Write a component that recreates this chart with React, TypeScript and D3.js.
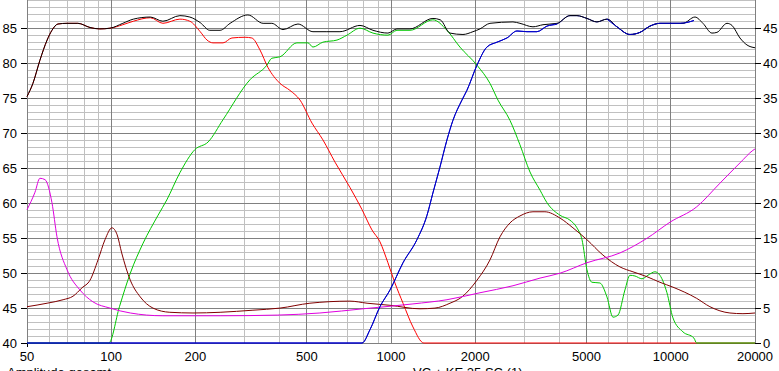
import * as d3 from "d3";

type Pt = [number, number];

// frequency (Hz), level (dB)
const totalResponse: Pt[] = [
  [50, 75.3], [52.5, 77.2], [55.6, 80.5], [59, 83.4], [61.4, 84.8], [64.5, 85.7],
  [69.5, 85.8], [76, 85.8], [84, 85.2], [91, 85.0], [99, 85.1], [110, 85.8],
  [120, 86.4], [138, 86.7], [153, 86.1], [176, 86.9], [191, 86.7], [208, 85.9],
  [225, 84.8], [245, 84.8], [266, 85.8], [308, 87.0], [349, 85.8], [375, 85.8],
  [411, 84.9], [465, 85.7], [526, 84.6], [590, 84.6], [657, 84.6], [775, 85.5],
  [862, 84.8], [975, 84.4], [1050, 85.0], [1169, 85.0], [1412, 86.5], [1500, 86.3],
  [1625, 84.4], [1808, 84.2], [1963, 84.6], [2080, 85.0], [2258, 85.8], [2729, 86.0],
  [2890, 85.8], [3217, 85.3], [3493, 85.6], [3920, 85.8], [4361, 86.9], [4620, 86.9],
  [5016, 86.5], [5445, 86.0], [5914, 86.4], [6420, 85.3], [7145, 84.2], [7760, 84.5],
  [8425, 85.4], [9146, 85.8], [10520, 85.8], [11050, 85.8], [12200, 86.7], [13030, 85.8],
  [14030, 84.4], [14620, 84.5], [15880, 85.8], [16550, 85.5], [17670, 83.7],
  [18720, 82.7], [20000, 82.3],
];

const wooferResponse: Pt[] = [
  [50, 75.3], [52.5, 77.2], [55.6, 80.5], [59, 83.4], [61.4, 84.8], [64.5, 85.7],
  [69.5, 85.8], [76, 85.8], [84, 85.2], [91, 85.0], [99, 85.1], [110, 85.6],
  [120, 86.1], [138, 86.6], [153, 85.8], [176, 86.4], [191, 86.1], [208, 84.6],
  [220, 83.4], [231, 83.0], [251, 83.0], [270, 83.7], [301, 83.8], [318, 83.7],
  [340, 82.0], [363, 79.5], [401, 77.2], [435, 76.2], [473, 74.8], [522, 71.5],
  [571, 69.1], [631, 65.9], [713, 62.3], [788, 59.1], [855, 56.2], [913, 54.5],
  [975, 51.5], [1033, 48.6], [1104, 45.7], [1198, 42.3], [1311, 40], [20000, 40],
];

const midResponse: Pt[] = [
  [50, 40], [98, 40], [107, 45.2], [117, 50], [130, 54.3], [147, 58.3], [158, 60.5],
  [176, 64.4], [199, 67.7], [222, 68.8], [251, 72.0], [313, 77.7], [360, 79.8],
  [375, 80.8], [401, 81.0], [461, 83.0], [505, 83.0], [526, 82.4], [571, 83.1],
  [641, 83.4], [696, 84.1], [775, 85.1], [862, 84.4], [975, 84.1], [1050, 84.8],
  [1169, 84.8], [1412, 86.3], [1585, 84.8], [1763, 82.4], [2029, 79.8], [2258, 77.2],
  [2412, 74.8], [2662, 71.9], [2890, 68.4], [3139, 64.5], [3409, 61.9], [3610, 60.1],
  [4018, 58.3], [4361, 57.6], [4620, 56.5], [4816, 54.8], [5016, 50.5], [5225, 48.7],
  [5580, 48.6], [5914, 46.6], [6215, 43.7], [6475, 44.0], [6858, 47.6], [7145, 49.7],
  [7447, 49.6], [7889, 49.2], [8287, 49.7], [8778, 50.2], [9146, 49.7], [9690, 47.2],
  [10180, 43.6], [11050, 41.6], [12100, 40.7], [12370, 40], [20000, 40],
];

const tweeterResponse: Pt[] = [
  [50, 40], [788, 40], [841, 41.9], [913, 45.2], [992, 47.6], [1104, 51.5],
  [1238, 54.8], [1345, 58.3], [1412, 61.5], [1496, 65.2], [1585, 69.1], [1665, 71.9],
  [1793, 74.8], [1868, 76.2], [2029, 79.8], [2202, 82.4], [2393, 83.1], [2597, 83.7],
  [2820, 84.7], [3062, 84.6], [3323, 84.6], [3610, 85.4], [3920, 85.7], [4361, 86.9],
  [4620, 86.9], [5016, 86.5], [5445, 86.0], [5914, 86.4], [6420, 85.3], [7145, 84.2],
  [7760, 84.5], [8425, 85.4], [9146, 85.8], [10800, 85.8], [12100, 86.2],
];

// impedance-like traces, read on the right-hand scale (+40)
const maroonTrace: Pt[] = [
  [50, 45.2], [59, 45.7], [67.3, 46.2], [73, 46.7], [78.6, 47.9], [84, 49],
  [89.7, 51.9], [95, 54.8], [100.6, 56.5], [105, 55.5], [109, 52.9], [117, 49],
  [127, 46.6], [141, 45.0], [162, 44.4], [196, 44.3], [245, 44.4], [321, 44.7],
  [401, 45.0], [513, 45.7], [713, 46.0], [821, 45.7], [992, 45.4], [1269, 44.9],
  [1436, 45.0], [1625, 45.7], [1793, 46.6], [2029, 49], [2258, 51.9], [2451, 55.2],
  [2662, 57.2], [2890, 58.2], [3217, 58.8], [3550, 58.8], [4018, 57.9], [4470, 56.5],
  [5016, 54.8], [5721, 52.6], [6580, 50.9], [7324, 50.2], [8220, 49.5], [9146, 48.7],
  [10180, 48.0], [12370, 46.4], [13800, 45.2], [16270, 44.3], [18110, 44.2], [20000, 44.3],
];

const magentaTrace: Pt[] = [
  [50, 59.1], [53.4, 61.6], [55.6, 63.6], [58, 63.4], [61.4, 60.1], [64, 55.2],
  [69.5, 50.5], [77.3, 47.6], [86, 45.9], [99, 45.0], [117, 44.3], [153, 43.9],
  [245, 43.9], [394, 44.0], [557, 44.3], [794, 44.9], [1198, 45.6], [1585, 46.2],
  [2080, 47.2], [2729, 48.2], [3409, 49.3], [4018, 50.0], [5016, 51.5], [6580, 52.9],
  [8220, 55.0], [9930, 57.3], [12370, 59.5], [14990, 62.9], [17670, 65.8],
  [19660, 67.6], [20000, 67.8],
];

const freqTicks = [50, 100, 200, 500, 1000, 2000, 5000, 10000, 20000];
const leftTicks = [40, 45, 50, 55, 60, 65, 70, 75, 80, 85];
const rightTicks = [0, 5, 10, 15, 20, 25, 30, 35, 40, 45];

const W = 779;
const H = 371;
const FONT = "'Liberation Sans', Arial, sans-serif";

export default function App() {
  const x = d3.scaleLog().domain([50, 20000]).range([27, 755]);
  const y = d3.scaleLinear().domain([40, 90]).range([343, -6]);

  const minorFreqs: number[] = [];
  for (const dec of [10, 100, 1000, 10000]) {
    for (let m = 1; m < 10; m++) {
      const f = dec * m;
      if (f >= 50 && f <= 20000 && !freqTicks.includes(f)) minorFreqs.push(f);
    }
  }
  const dbLines = d3.range(40, 91);

  const line = d3
    .line<Pt>()
    .x((d) => x(d[0]))
    .y((d) => y(d[1]))
    .curve(d3.curveMonotoneX);

  const series: { data: Pt[]; color: string }[] = [
    { data: wooferResponse, color: "#ff0000" },
    { data: midResponse, color: "#00c800" },
    { data: maroonTrace, color: "#800000" },
    { data: magentaTrace, color: "#e000e0" },
    { data: tweeterResponse, color: "#0000c8" },
    { data: totalResponse, color: "#000000" },
  ];

  // parts of the tweeter trace that lie on top of the sum in the reference
  const tweeterLow = tweeterResponse.filter((d) => d[0] <= 3920);
  const tweeterHigh = tweeterResponse.filter((d) => d[0] >= 5914);

  return (
    <svg
      width={W}
      height={H}
      style={{ position: "absolute", left: 0, top: 0, background: "#fff" }}
      fontFamily={FONT}
    >
      <g shapeRendering="crispEdges">
        {dbLines
          .filter((v) => v % 5 !== 0)
          .map((v) => (
            <line key={"hm" + v} x1={27} x2={755} y1={y(v)} y2={y(v)} stroke="#c0c0c0" />
          ))}
        {minorFreqs.map((f) => (
          <line key={"vm" + f} x1={x(f)} x2={x(f)} y1={-6} y2={343} stroke="#c0c0c0" />
        ))}
        {dbLines
          .filter((v) => v % 5 === 0)
          .map((v) => (
            <line key={"hM" + v} x1={27} x2={755} y1={y(v)} y2={y(v)} stroke="#808080" />
          ))}
        {freqTicks.map((f) => (
          <line key={"vM" + f} x1={x(f)} x2={x(f)} y1={-6} y2={343} stroke="#808080" />
        ))}
        {leftTicks.map((v) => (
          <line key={"lt" + v} x1={21} x2={27} y1={y(v)} y2={y(v)} stroke="#000" />
        ))}
        {rightTicks.map((v) => (
          <line key={"rt" + v} x1={755} x2={761} y1={y(v + 40)} y2={y(v + 40)} stroke="#000" />
        ))}
        <line x1={27} x2={27} y1={343} y2={347} stroke="#000" />
      </g>

      <g fill="none" strokeWidth={1}>
        {series.map((s, i) => (
          <path key={i} d={line(s.data) ?? ""} stroke={s.color} />
        ))}
        <path d={line(tweeterLow) ?? ""} stroke="#0000c8" />
        <path d={line(tweeterHigh) ?? ""} stroke="#0000c8" />
      </g>

      <g fontSize={13} fill="#000">
        {leftTicks.map((v) => (
          <text key={"ll" + v} x={17} y={y(v) + 4.5} textAnchor="end">
            {v}
          </text>
        ))}
        {rightTicks.map((v) => (
          <text key={"rl" + v} x={763} y={y(v + 40) + 4.5}>
            {v}
          </text>
        ))}
        {freqTicks.map((f) => (
          <text key={"fl" + f} x={x(f)} y={361} textAnchor="middle">
            {f}
          </text>
        ))}
        <text x={7} y={377}>Amplitude gesamt</text>
        <text x={413} y={377}>VC + KE 25 SC (1)</text>
      </g>
    </svg>
  );
}
